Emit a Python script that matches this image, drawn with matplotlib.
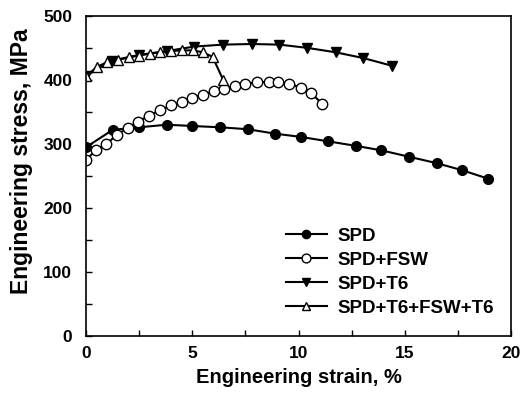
import matplotlib
matplotlib.use("Agg")
import matplotlib.pyplot as plt
from matplotlib.ticker import MultipleLocator

plt.rcParams['font.family'] = ['Liberation Sans', 'DejaVu Sans']
plt.rcParams['font.weight'] = 'bold'

# SPD
spd_x = [0, 1.25, 2.5, 3.8, 5.0, 6.3, 7.6, 8.9, 10.1, 11.4, 12.7, 13.9, 15.2, 16.5, 17.7, 18.9]
spd_y = [295, 322, 326, 330, 328, 326, 323, 316, 311, 304, 297, 290, 280, 270, 259, 246]

# SPD+FSW
fsw_x = [0, 0.45, 0.95, 1.45, 1.95, 2.45, 2.95, 3.5, 4.0, 4.5, 5.0, 5.5, 6.0, 6.5,
         7.0, 7.5, 8.05, 8.6, 9.05, 9.55, 10.1, 10.6, 11.1]
fsw_y = [275, 290, 300, 314, 325, 335, 344, 353, 360, 365, 372, 377, 382, 386,
         391, 394, 396, 397, 396, 394, 388, 379, 363]

# SPD+T6
t6_x = [0, 1.2, 2.5, 3.8, 5.1, 6.45, 7.8, 9.1, 10.4, 11.75, 13.05, 14.4]
t6_y = [406, 430, 439, 445, 452, 455, 456, 455, 450, 443, 434, 422]

# SPD+T6+FSW+T6
t6fsw_x = [0, 0.5, 1.0, 1.5, 2.0, 2.5, 3.0, 3.5, 4.0, 4.5, 5.05, 5.5, 5.95, 6.45]
t6fsw_y = [406, 420, 428, 431, 435, 438, 441, 443, 445, 446, 446, 443, 436, 400]

fig = plt.figure(figsize=(5.22, 3.95), dpi=100)
ax = fig.add_axes([0.165, 0.149, 0.814, 0.811])

ax.plot(spd_x, spd_y, '-o', color='black', lw=1.5, ms=7, mfc='black', label='SPD')
ax.plot(fsw_x, fsw_y, '-o', color='black', lw=1.5, ms=7.5, mfc='white', mew=1.0, label='SPD+FSW')
ax.plot(t6_x, t6_y, '-v', color='black', lw=1.5, ms=7, mfc='black', label='SPD+T6')
ax.plot(t6fsw_x, t6fsw_y, '-^', color='black', lw=1.5, ms=7.5, mfc='white', mew=1.0,
        label='SPD+T6+FSW+T6')

ax.set_xlim(0, 20)
ax.set_ylim(0, 500)
ax.xaxis.set_major_locator(MultipleLocator(5))
ax.xaxis.set_minor_locator(MultipleLocator(2.5))
ax.yaxis.set_major_locator(MultipleLocator(100))
ax.yaxis.set_minor_locator(MultipleLocator(50))
ax.tick_params(which='both', direction='in', length=4, width=1)
ax.tick_params(axis='y', which='major', labelsize=12.5, pad=10)
ax.tick_params(axis='x', which='major', labelsize=12.5, pad=7)
for s in ax.spines.values():
    s.set_linewidth(1.2)

ax.set_xlabel('Engineering strain, %', fontsize=14.5, fontweight='bold', labelpad=5)
ax.set_ylabel('Engineering stress, MPa', fontsize=16.5, fontweight='bold')
ax.yaxis.set_label_coords(-0.125, 0.546)

leg = ax.legend(loc='lower right', frameon=False, fontsize=13.5, handlelength=2.2,
                handletextpad=0.55, labelspacing=0.36, borderaxespad=0.3,
                markerscale=0.85, bbox_to_anchor=(0.99, 0.02))

fig.savefig('out.png', dpi=100)
